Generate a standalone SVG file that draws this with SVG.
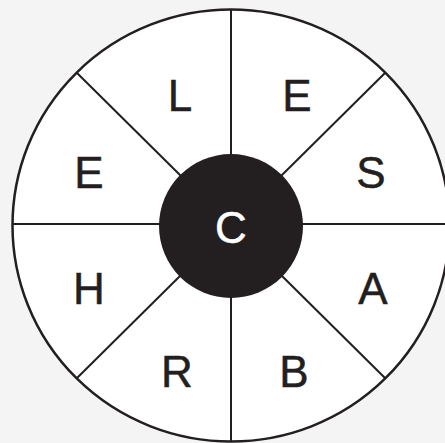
<svg xmlns="http://www.w3.org/2000/svg" width="445" height="443" viewBox="0 0 445 443">
<style>
.spoke{stroke:#231f20;stroke-width:2;fill:none}
.lbl{font-family:"Liberation Sans",Arial,sans-serif;font-size:44px;fill:#231f20;stroke:#231f20;stroke-width:0.5;text-anchor:middle}
.inv{fill:#fff;stroke:#fff}
</style>
<rect width="445" height="443" fill="#f4f4f4"/>
<g id="wheel">
<ellipse cx="231" cy="225.5" rx="218.5" ry="216" fill="#fff" stroke="#231f20" stroke-width="2.5"/>
</g>
<g id="connectors">
<line class="spoke" x1="231" y1="9.5" x2="231" y2="441.5"/>
<line class="spoke" x1="12.5" y1="224" x2="449.5" y2="224"/>
<line class="spoke" x1="76.5" y1="72.5" x2="385.5" y2="378.5"/>
<line class="spoke" x1="385.5" y1="72.5" x2="76.5" y2="378.5"/>
</g>
<g id="n-L"><text class="lbl" x="180" y="111">L</text></g>
<g id="n-E1"><text class="lbl" x="297" y="111">E</text></g>
<g id="n-S"><text class="lbl" x="371" y="188">S</text></g>
<g id="n-A"><text class="lbl" x="373" y="304">A</text></g>
<g id="n-B"><text class="lbl" x="294" y="387">B</text></g>
<g id="n-R"><text class="lbl" x="177" y="387">R</text></g>
<g id="n-H"><text class="lbl" x="89" y="304">H</text></g>
<g id="n-E2"><text class="lbl" x="89" y="188">E</text></g>
<g id="n-C">
<circle cx="231" cy="226" r="72" fill="#231f20"/>
<text class="lbl inv" x="231" y="243">C</text>
</g>
</svg>
